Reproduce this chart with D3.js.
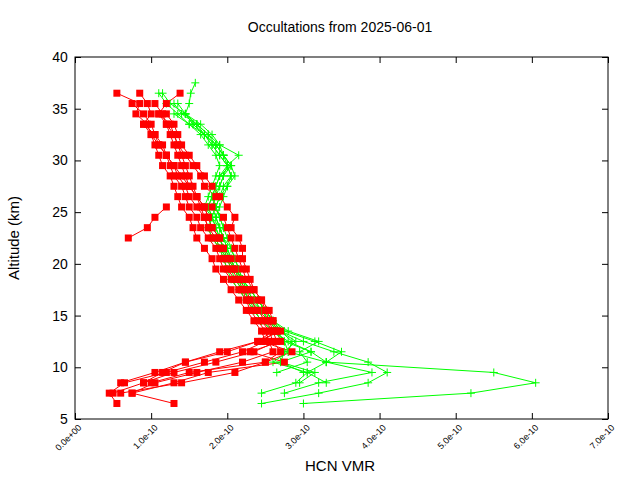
<!DOCTYPE html><html><head><meta charset="utf-8">
<script src="https://cdn.jsdelivr.net/npm/d3@7"></script>
<style>body{margin:0;background:#fff}text{font-family:"Liberation Sans",Arial,sans-serif}</style></head><body>
<svg id="c" width="640" height="480"></svg>
<script>
const title = "Occultations from 2025-06-01";
const xTicks = [0,1,2,3,4,5,6,7];
const yTicks = [5,10,15,20,25,30,35,40];
// red profiles: top altitude, then VMR (×1e-10) at 1 km steps downward
const redTops = [36.5,36.5,36.5,35.5,35.5,34.5,34.5,33.5,25.5];
const redVals = [
 [0.55,0.85,0.8,0.95,1.0,1.05,1.1,1.15,1.25,1.3,1.35,1.4,1.5,1.55,1.6,1.7,1.8,1.85,1.95,2.05,2.15,2.25,2.35,2.45,2.5,2.2,1.7,1.2,0.65,0.45,0.55],
 [0.85,0.95,1.0,0.9,1.05,1.1,1.2,1.25,1.3,1.4,1.45,1.5,1.6,1.65,1.75,1.85,1.9,1.95,2.05,2.15,2.25,2.3,2.4,2.5,2.55,2.6,2.2,1.6,1.05,0.75,1.3],
 [1.38,1.2,1.1,1.2,1.3,1.35,1.4,1.45,1.5,1.55,1.6,1.65,1.7,1.75,1.8,1.9,1.95,2.0,2.1,2.2,2.25,2.35,2.45,2.55,2.6,2.7,2.5,2.1,1.4,0.6],
 [1.05,1.15,1.2,1.25,1.3,1.35,1.4,1.45,1.5,1.6,1.7,1.75,1.8,1.9,1.95,2.0,2.05,2.15,2.25,2.3,2.4,2.5,2.6,2.65,2.35,1.85,1.3,0.9,0.5],
 [0.75,0.9,1.0,1.05,1.15,1.2,1.3,1.35,1.45,1.5,1.6,1.7,1.75,1.85,1.9,2.0,2.1,2.15,2.2,2.3,2.4,2.55,2.6,2.4,2.0,1.45,1.05,0.6],
 [1.2,1.3,1.35,1.4,1.5,1.6,1.7,1.8,1.9,2.0,2.1,2.05,2.15,2.2,2.2,2.25,2.3,2.35,2.45,2.5,2.6,2.65,2.7,2.3,2.75,1.75,1.3,0.75],
 [1.1,1.25,1.3,1.35,1.45,1.55,1.65,1.7,1.85,1.8,1.95,2.0,2.05,2.1,2.15,2.2,2.25,2.35,2.45,2.55,2.6,2.7,2.4,1.9,1.45,1.15,0.9],
 [0.9,1.0,1.1,1.2,1.3,1.4,1.5,1.6,1.7,1.75,1.8,1.9,1.95,2.05,2.1,2.2,2.3,2.4,2.5,2.55,2.65,2.45,2.85,2.5,1.5,1.0],
 [1.2,1.05,0.95,0.7]
];
const greenTops = [37.5,36.5,36.5,35.5,35.5,34.5,34.5,33.5];
const greenVals = [
 [1.58,1.52,1.5,1.45,1.55,1.7,1.8,1.9,2.0,2.05,2.0,1.95,1.9,1.85,1.9,1.95,2.0,2.05,2.1,2.15,2.2,2.3,2.35,2.45,2.6,2.8,3.1,3.3,5.5,6.05,5.2,3.0],
 [1.1,1.2,1.35,1.5,1.7,1.85,1.95,2.05,2.1,2.0,1.9,1.85,1.9,1.95,2.0,2.05,2.1,2.15,2.2,2.25,2.35,2.45,2.55,2.7,3.0,3.4,3.85,4.1,3.85,3.2,2.45],
 [1.15,1.25,1.45,1.65,1.8,1.9,1.95,2.0,1.95,1.9,1.85,1.8,1.85,1.9,1.95,2.05,2.1,2.15,2.2,2.3,2.4,2.5,2.6,2.75,3.15,3.5,3.3,3.05,2.9,2.45],
 [1.3,1.4,1.6,1.75,1.9,2.15,2.0,1.9,1.85,1.8,1.85,1.9,1.95,1.85,1.9,2.0,2.05,2.1,2.2,2.3,2.45,2.55,2.65,2.75,2.8,3.3,3.9,3.2,2.75],
 [1.35,1.45,1.6,1.7,1.85,1.95,2.05,1.95,1.9,1.8,1.75,1.8,1.85,1.9,1.95,2.0,2.1,2.2,2.3,2.4,2.5,2.6,2.7,2.85,2.8,2.6,3.05,3.3],
 [1.45,1.55,1.7,1.8,1.9,2.0,2.05,1.95,1.9,1.85,1.8,1.75,1.8,1.9,1.95,2.0,2.05,2.15,2.25,2.35,2.45,2.6,2.75,3.1,2.7,3.15,2.95],
 [1.3,1.5,1.65,1.75,1.85,1.9,1.85,1.8,1.75,1.7,1.8,1.85,1.9,1.95,2.05,2.1,2.2,2.3,2.4,2.5,2.6,2.8,3.2,2.95,3.05,2.65],
 [1.6,1.75,1.85,1.95,2.05,1.9,1.85,1.8,1.75,1.8,1.9,1.95,2.0,2.05,2.1,2.2,2.25,2.35,2.45,2.55,2.7,2.9,2.75,2.7,3.0]
];

const svg = d3.select("#c");
const m = {l:75,r:608,t:57,b:419};
const x = d3.scaleLinear().domain([0,7]).range([m.l,m.r]);
const y = d3.scaleLinear().domain([5,40]).range([m.b,m.t]);
const toPts = (top,vals)=>vals.map((v,i)=>[v,top-i]);
const line = d3.line().x(d=>x(d[0])).y(d=>y(d[1]));

svg.append("rect").attr("x",m.l).attr("y",m.t).attr("width",m.r-m.l).attr("height",m.b-m.t).attr("fill","none").attr("stroke","#000");
const xa = svg.append("g").attr("transform",`translate(0,${m.b})`).call(d3.axisBottom(x).tickValues(xTicks).tickSize(-6).tickFormat(d=>d===0?"0.0e+00":d.toFixed(1)+"e-10"));
xa.selectAll("text").attr("transform","rotate(-45)").attr("text-anchor","end").attr("dx","-0.2em").attr("dy","0.9em").attr("font-size",9);
svg.append("g").attr("transform",`translate(0,${m.t})`).call(d3.axisTop(x).tickValues(xTicks).tickSize(-6).tickFormat(""));
const ya = svg.append("g").attr("transform",`translate(${m.l},0)`).call(d3.axisLeft(y).tickValues(yTicks).tickSize(-6));
ya.selectAll("text").attr("font-size",14).attr("dx","-0.3em");
svg.append("g").attr("transform",`translate(${m.r},0)`).call(d3.axisRight(y).tickValues(yTicks).tickSize(-6).tickFormat(""));
svg.selectAll(".domain").remove();
svg.selectAll(".tick text").attr("fill","#000");

redVals.forEach((v,k)=>{
  const p = toPts(redTops[k],v);
  svg.append("path").attr("d",line(p)).attr("fill","none").attr("stroke","#ff0000").attr("stroke-width",1);
});
greenVals.forEach((v,k)=>{
  const p = toPts(greenTops[k],v);
  svg.append("path").attr("d",line(p)).attr("fill","none").attr("stroke","#00ff00").attr("stroke-width",1);
  svg.append("g").selectAll("path").data(p).join("path")
   .attr("d",d=>`M${x(d[0])-4},${y(d[1])}h8M${x(d[0])},${y(d[1])-4}v8`).attr("stroke","#00ff00").attr("stroke-width",1);
});
redVals.forEach((v,k)=>{
  const p = toPts(redTops[k],v);
  svg.append("g").selectAll("rect").data(p).join("rect")
   .attr("x",d=>x(d[0])-3.5).attr("y",d=>y(d[1])-3.5).attr("width",7).attr("height",7).attr("fill","#ff0000");
});

svg.append("text").attr("x",340).attr("y",32).attr("text-anchor","middle").attr("font-size",14).text(title);
svg.append("text").attr("x",340).attr("y",471).attr("text-anchor","middle").attr("font-size",15).text("HCN VMR");
svg.append("text").attr("transform","translate(19,238) rotate(-90)").attr("text-anchor","middle").attr("font-size",15).text("Altitude (km)");
</script></body></html>
